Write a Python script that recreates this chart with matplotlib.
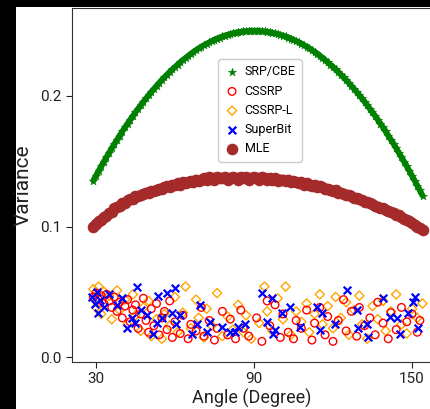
import matplotlib
matplotlib.use("Agg")
import matplotlib.pyplot as plt
from matplotlib.patches import Rectangle
import numpy as np

plt.rcParams['font.family'] = ['Roboto', 'DejaVu Sans']

# ---- data ----
angle_curve = list(range(29, 155))
srp_cbe = [0.1352, 0.1389, 0.1426, 0.1462, 0.1497, 0.1532, 0.1566, 0.1600, 0.1633, 0.1665,
           0.1697, 0.1728, 0.1759, 0.1789, 0.1818, 0.1847, 0.1875, 0.1902, 0.1929, 0.1956,
           0.1981, 0.2006, 0.2031, 0.2054, 0.2077, 0.2100, 0.2122, 0.2143, 0.2164, 0.2184,
           0.2203, 0.2222, 0.2240, 0.2258, 0.2275, 0.2291, 0.2307, 0.2322, 0.2337, 0.2351,
           0.2364, 0.2377, 0.2389, 0.2400, 0.2411, 0.2421, 0.2431, 0.2440, 0.2448, 0.2456,
           0.2463, 0.2469, 0.2475, 0.2480, 0.2485, 0.2489, 0.2492, 0.2495, 0.2497, 0.2499,
           0.2500, 0.2500, 0.2500, 0.2499, 0.2497, 0.2495, 0.2492, 0.2489, 0.2485, 0.2480,
           0.2475, 0.2469, 0.2463, 0.2456, 0.2448, 0.2440, 0.2431, 0.2421, 0.2411, 0.2400,
           0.2389, 0.2377, 0.2364, 0.2351, 0.2337, 0.2322, 0.2307, 0.2291, 0.2275, 0.2258,
           0.2240, 0.2222, 0.2203, 0.2184, 0.2164, 0.2143, 0.2122, 0.2100, 0.2077, 0.2054,
           0.2031, 0.2006, 0.1981, 0.1956, 0.1929, 0.1902, 0.1875, 0.1847, 0.1818, 0.1789,
           0.1759, 0.1728, 0.1697, 0.1665, 0.1633, 0.1600, 0.1566, 0.1532, 0.1497, 0.1462,
           0.1426, 0.1389, 0.1352, 0.1314, 0.1276, 0.1237]
mle = [0.100, 0.102, 0.104, 0.105, 0.107, 0.108, 0.110, 0.111, 0.114, 0.115,
       0.116, 0.118, 0.118, 0.120, 0.121, 0.121, 0.123, 0.123, 0.124, 0.125,
       0.126, 0.126, 0.127, 0.127, 0.128, 0.129, 0.129, 0.130, 0.131, 0.130,
       0.132, 0.132, 0.133, 0.132, 0.134, 0.133, 0.134, 0.135, 0.134, 0.136,
       0.135, 0.136, 0.137, 0.136, 0.138, 0.137, 0.136, 0.138, 0.137, 0.137,
       0.138, 0.136, 0.137, 0.138, 0.137, 0.136, 0.138, 0.137, 0.138, 0.136,
       0.137, 0.138, 0.137, 0.136, 0.138, 0.137, 0.136, 0.137, 0.136, 0.137,
       0.135, 0.136, 0.136, 0.135, 0.136, 0.134, 0.135, 0.134, 0.133, 0.134,
       0.132, 0.133, 0.132, 0.131, 0.132, 0.130, 0.131, 0.130, 0.129, 0.129,
       0.128, 0.127, 0.128, 0.126, 0.126, 0.125, 0.124, 0.124, 0.123, 0.122,
       0.122, 0.121, 0.120, 0.119, 0.119, 0.118, 0.117, 0.116, 0.115, 0.114,
       0.114, 0.113, 0.112, 0.111, 0.110, 0.109, 0.109, 0.107, 0.106, 0.105,
       0.104, 0.103, 0.101, 0.100, 0.099, 0.097]

cssrp_angle = [29, 30, 31, 32, 33, 34, 35, 36, 37, 38, 39, 40, 41, 42, 43, 44, 45, 46, 47, 48,
               49, 50, 51, 52, 53, 54, 55, 56, 57, 58, 59, 60, 62, 63, 65, 66, 68, 70, 71, 73,
               75, 76, 78, 80, 81, 83, 85, 86, 88, 91, 93, 95, 96, 98, 100, 101, 103, 105, 106, 108,
               110, 112, 113, 115, 117, 118, 120, 122, 124, 125, 127, 129, 130, 132, 134, 136, 137, 139, 141, 142,
               144, 146, 148, 150, 152, 153]
cssrp = [0.046, 0.049, 0.044, 0.047, 0.041, 0.048, 0.043, 0.038, 0.046, 0.035, 0.042, 0.030, 0.039, 0.044, 0.027, 0.036, 0.040, 0.022, 0.033, 0.045,
         0.028, 0.019, 0.037, 0.024, 0.041, 0.017, 0.030, 0.035, 0.021, 0.043, 0.015, 0.027, 0.018, 0.032, 0.014, 0.025, 0.020, 0.038, 0.016, 0.028,
         0.013, 0.022, 0.035, 0.017, 0.029, 0.014, 0.036, 0.022, 0.016, 0.030, 0.012, 0.043, 0.024, 0.040, 0.015, 0.033, 0.019, 0.014, 0.028, 0.022,
         0.036, 0.013, 0.026, 0.038, 0.017, 0.031, 0.012, 0.028, 0.044, 0.020, 0.035, 0.016, 0.038, 0.024, 0.030, 0.017, 0.042, 0.026, 0.014, 0.034,
         0.021, 0.038, 0.027, 0.033, 0.019, 0.028]

cssrpl_angle = [29, 30, 31, 32, 33, 35, 36, 38, 39, 41, 42, 44, 45, 47, 48, 50, 51, 53, 55, 56,
                58, 60, 61, 63, 64, 66, 68, 69, 71, 72, 74, 76, 78, 80, 82, 84, 86, 87, 89, 92,
                94, 95, 97, 99, 101, 102, 104, 106, 108, 110, 111, 113, 115, 116, 118, 120, 121, 123, 125, 126,
                128, 130, 131, 133, 135, 137, 139, 140, 142, 144, 146, 148, 150, 152, 154]
cssrpl = [0.052, 0.038, 0.054, 0.033, 0.050, 0.047, 0.029, 0.051, 0.036, 0.044, 0.025, 0.048, 0.032, 0.020, 0.038, 0.043, 0.016, 0.029, 0.014, 0.033,
          0.024, 0.046, 0.019, 0.034, 0.054, 0.022, 0.044, 0.030, 0.015, 0.037, 0.024, 0.049, 0.016, 0.031, 0.021, 0.040, 0.019, 0.032, 0.014, 0.026,
          0.054, 0.035, 0.020, 0.045, 0.029, 0.054, 0.017, 0.035, 0.027, 0.041, 0.019, 0.033, 0.048, 0.025, 0.039, 0.022, 0.046, 0.030, 0.042, 0.017,
          0.036, 0.047, 0.025, 0.014, 0.039, 0.029, 0.043, 0.020, 0.035, 0.048, 0.025, 0.018, 0.037, 0.030, 0.041]

superbit_angle = [28.5, 29.5, 30.4, 30.8, 31.5, 33, 35, 38, 40, 41.8, 43.7, 44.8, 45.6, 47, 49.4, 51.7, 53, 53.6, 55, 57,
                  59, 60, 60.5, 62, 66.5, 68.4, 69.5, 72, 73.3, 77.9, 81, 82.8, 84, 86.6, 93, 95, 96.8, 97.2, 98, 100.6,
                  103.7, 107.5, 114, 115, 115.8, 120.8, 125.3, 129, 129.5, 133, 133.3, 139, 141.7, 144.3, 145.5, 148.5, 150.4, 151.2, 152.3]
superbit = [0.046, 0.041, 0.050, 0.034, 0.044, 0.038, 0.048, 0.040, 0.045, 0.022, 0.030, 0.026, 0.054, 0.036, 0.032, 0.018, 0.026, 0.047, 0.030, 0.049,
            0.034, 0.053, 0.025, 0.032, 0.018, 0.025, 0.040, 0.019, 0.027, 0.023, 0.019, 0.019, 0.023, 0.025, 0.049, 0.027, 0.045, 0.018, 0.021, 0.034,
            0.038, 0.023, 0.038, 0.021, 0.034, 0.025, 0.051, 0.036, 0.022, 0.025, 0.015, 0.045, 0.031, 0.030, 0.018, 0.034, 0.042, 0.046, 0.022]

x_ticks = [30, 90, 150]
y_ticks = [0.0, 0.1, 0.2]
y_ticklabels = ['0.0', '0.1', '0.2']

# ---- figure ----
W, H = 430, 409
fig = plt.figure(figsize=(W / 100, H / 100), dpi=100, facecolor='black')
fig.patches.append(Rectangle((16 / W, 0), 1, (H - 7) / H, transform=fig.transFigure,
                             facecolor='white', edgecolor='none', zorder=-10))

ax = fig.add_axes([72 / W, 1 - 362 / H, (432 - 72) / W, (362 - 8) / H])

# dense band of SRP/CBE markers
ax.plot(angle_curve, srp_cbe, color='green', lw=4.2, solid_capstyle='round', zorder=2)
ax.scatter(angle_curve, srp_cbe, marker='*', s=40, color='green', linewidths=0.3, label='SRP/CBE', zorder=3)
ax.scatter(cssrp_angle, cssrp, marker='o', s=30, facecolors='none', edgecolors='red', linewidths=1.0, label='CSSRP', zorder=3)
ax.scatter(cssrpl_angle, cssrpl, marker='D', s=22, facecolors='none', edgecolors='orange', linewidths=1.0, label='CSSRP-L', zorder=2)
ax.scatter(superbit_angle, superbit, marker='x', s=30, color='blue', linewidths=1.6, label='SuperBit', zorder=4)
ax.plot(angle_curve, mle, color='brown', lw=7, solid_capstyle='round', zorder=2)
ax.scatter(angle_curve, mle, marker='o', s=70, color='brown', linewidths=0, label='MLE', zorder=3)

ax.set_xlim(20.9, 157.6)
ax.set_ylim(-0.0038, 0.2674)
ax.set_xticks(x_ticks)
ax.set_yticks(y_ticks)
ax.set_yticklabels(y_ticklabels)
ax.tick_params(labelsize=11, length=4, colors='#222222')
ax.set_xlabel('Angle (Degree)', fontsize=13, labelpad=2, color='#222222')
ax.set_ylabel('Variance', fontsize=15, labelpad=5, color='#222222')
for sp in ax.spines.values():
    sp.set_color('#333333')

ax.legend(loc='upper left', bbox_to_anchor=(0.389, 0.873), fontsize=9, frameon=True,
          handletextpad=0.4, labelspacing=0.5, borderpad=0.5, handlelength=1.2,
          framealpha=1, edgecolor='#cccccc', fancybox=True)

fig.savefig('out.png', dpi=100, facecolor=fig.get_facecolor())
